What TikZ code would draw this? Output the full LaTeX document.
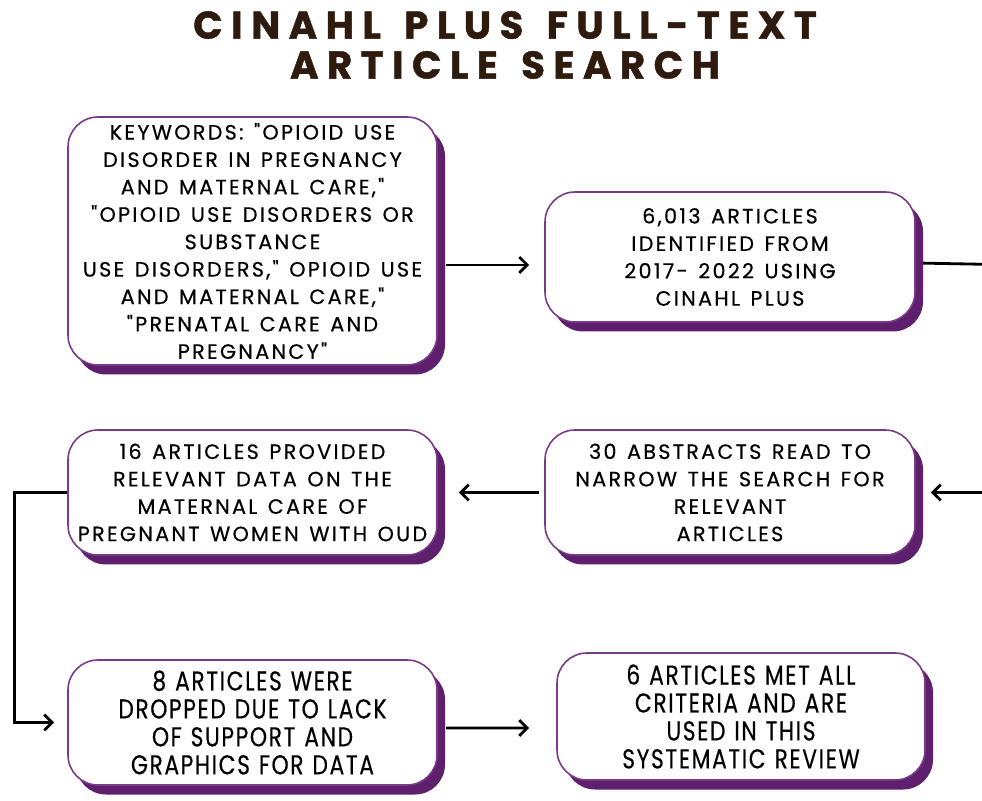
\documentclass[tikz,border=0pt]{standalone}
\usepackage{fontspec}
\setmainfont{Poppins}[Ligatures=TeXOff,LetterSpace=11,WordSpace=1.35,FakeBold=0.5]
\newfontfamily\titlefont{Poppins Bold}[LetterSpace=22,WordSpace=1.4,FakeBold=1.2]
\newfontfamily\narrowfont{Poppins}[FakeStretch=0.8,LetterSpace=6,WordSpace=1.2,FakeBold=0.4]
\usetikzlibrary{arrows.meta,shadows}

\definecolor{boxline}{HTML}{7A3A8A}
\definecolor{boxshade}{HTML}{5E1F6C}
\definecolor{titlebrown}{HTML}{2E1B0D}
\newcommand{\qt}{\symbol{34}}

\tikzset{
    stepbox/.style={draw=boxline, line width=0.9pt, fill=white,
        rounded corners=0.6cm, align=center, inner sep=0pt,
        font=\fontsize{11.8pt}{15.6pt}\selectfont,
        drop shadow={shadow xshift=0.16cm, shadow yshift=-0.19cm,
            fill=boxshade, opacity=1}},
    narrowbox/.style={stepbox, font=\narrowfont\fontsize{15.5pt}{15.9pt}\selectfont},
    arr/.style={line width=1.6pt, -{Straight Barb[length=4.5pt,width=9pt]}}
}

\begin{document}
\begin{tikzpicture}
    \useasboundingbox (0,0) rectangle (19.64,16);

    % 标题
    \node[font=\titlefont\fontsize{22pt}{22.7pt}\selectfont,
          text=titlebrown, align=center] (title) at (10.1,15.1)
          {CINAHL PLUS FULL-TEXT\\ARTICLE SEARCH};

    % 第一行
    \node[stepbox, minimum width=7.38cm, minimum height=4.96cm] (keys) at (5.05,11.18)
        {KEYWORDS: \qt OPIOID USE\\DISORDER IN PREGNANCY\\AND MATERNAL CARE,\qt\\
         \qt OPIOID USE DISORDERS OR\\SUBSTANCE\\USE DISORDERS,\qt{} OPIOID USE\\
         AND MATERNAL CARE,\qt\\\qt PRENATAL CARE AND\\PREGNANCY\qt};
    \node[stepbox, minimum width=7.4cm, minimum height=2.6cm] (found) at (14.6,10.86)
        {6,013 ARTICLES\\IDENTIFIED FROM\\2017- 2022 USING\\CINAHL PLUS};

    % 第二行
    \node[stepbox, minimum width=7.38cm, minimum height=2.5cm] (kept) at (5.05,6.15)
        {16 ARTICLES PROVIDED\\RELEVANT DATA ON THE\\MATERNAL CARE OF\\PREGNANT WOMEN WITH OUD};
    \node[stepbox, minimum width=7.4cm, minimum height=2.5cm] (abstr) at (14.6,6.15)
        {30 ABSTRACTS READ TO\\NARROW THE SEARCH FOR\\RELEVANT\\ARTICLES};

    % 第三行
    \node[narrowbox, minimum width=7.38cm, minimum height=2.5cm] (drop) at (5.05,1.55)
        {8 ARTICLES WERE\\DROPPED DUE TO LACK\\OF SUPPORT AND\\GRAPHICS FOR DATA};
    \node[narrowbox, minimum width=7.36cm, minimum height=2.54cm] (final) at (14.82,1.67)
        {6 ARTICLES MET ALL\\CRITERIA AND ARE\\USED IN THIS\\SYSTEMATIC REVIEW};

    % 连线
    \coordinate (rside) at (20.4,8);
    \coordinate (row1) at (0,10.7);
    \draw[arr, shorten <=0.16cm, shorten >=0.3cm] (keys.east |- row1) -- (found.west |- row1);
    \draw[arr, shorten <=0.14cm, shorten >=0.3cm] (found.east |- 0,10.74) -- (rside |- 0,10.7) |- (abstr.east);
    \draw[arr, shorten <=0.1cm, shorten >=0.42cm] (abstr.west) -- (kept.east);
    \draw[arr, shorten >=0.26cm] (kept.west) -- ++(-1.06,0) |- (drop.west);
    \draw[arr, shorten <=0.16cm, shorten >=0.54cm] (drop.east) ++(0,-0.11) -- (final.west |- 0,1.44);
\end{tikzpicture}
\end{document}
